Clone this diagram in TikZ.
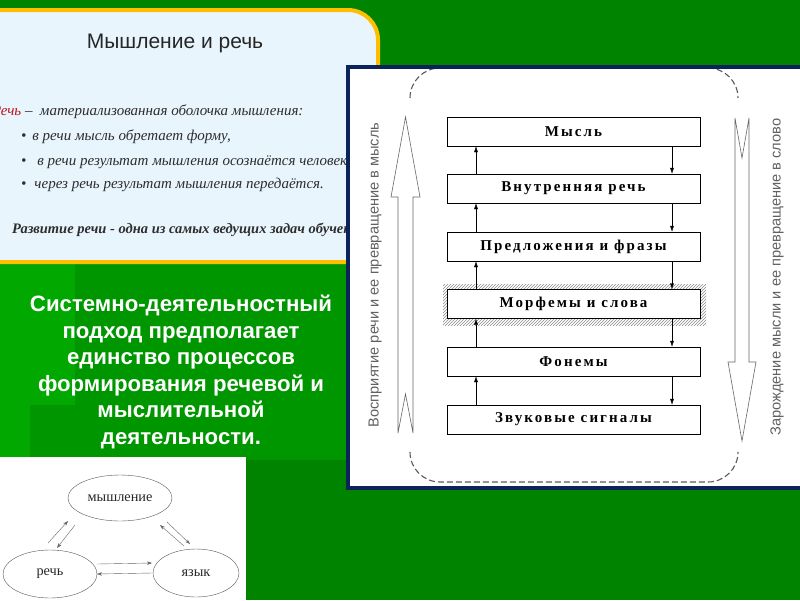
\documentclass[tikz,border=0pt]{standalone}
\usepackage{fontspec}
\setmainfont{Liberation Serif}
\newfontfamily\sansfont{Liberation Sans}
\newfontfamily\boxfont[LetterSpace=14]{Liberation Serif}
\usetikzlibrary{arrows.meta,patterns,shapes.geometric}
\definecolor{bggreen}{RGB}{0,132,0}
\definecolor{midgreen}{RGB}{0,150,0}
\definecolor{lightgreen}{RGB}{0,168,0}
\definecolor{paleblue}{RGB}{232,245,253}
\definecolor{gold}{RGB}{255,190,0}
\definecolor{navy}{RGB}{10,35,90}
\definecolor{speechred}{RGB}{190,20,30}
\definecolor{inktext}{RGB}{45,45,45}
\definecolor{dashgray}{RGB}{90,90,90}
\begin{document}
\begin{tikzpicture}[x=1pt,y=-1pt,
  stepbox/.style={draw,fill=white,minimum width=253pt,minimum height=29pt,inner sep=0pt,
    font=\boxfont\bfseries\fontsize{15}{17}\selectfont},
  smallarr/.style={-{Latex[length=6pt,width=4pt]},thin},
  bigarr/.style={draw=black!60,fill=white,line width=0.6pt},
  sidelabel/.style={rotate=90,text=black!62,font=\sansfont\fontsize{14.6}{16}\selectfont},
  textline/.style={anchor=base west,inner sep=0pt,text=inktext,font=\itshape\fontsize{15}{18}\selectfont},
  ellnode/.style={ellipse,draw=black!65,fill=white,inner sep=0pt,text=black!85,font=\fontsize{14.3}{16}\selectfont},
  thinarr/.style={-{Stealth[length=5pt,width=3.5pt]},black!60,thin}]
\useasboundingbox (0,0) rectangle (800,600);
\fill[bggreen] (0,0) rectangle (800,600);
\fill[midgreen] (0,262) rectangle (350,460);
\fill[lightgreen] (0,262) rectangle (75,405);
\fill[lightgreen] (0,405) rectangle (30,460);
\draw[gold,fill=paleblue,line width=4pt,rounded corners=30pt] (-30,10) rectangle (378,262);
\node[inner sep=0pt,anchor=base,text=black!85,font=\sansfont\fontsize{21}{24}\selectfont] (title) at (175,48) {Мышление и речь};
\node[textline] (def) at (-8,115) {\textcolor{speechred}{Речь} –\ \ материализованная оболочка мышления:};
\node[textline] (pt1) at (21,140) {\textbullet\hspace{6pt}в речи мысль обретает форму,};
\node[textline] (pt2) at (21,165) {\textbullet\hspace{11pt}в речи результат мышления осознаётся человеком,};
\node[textline] (pt3) at (21,188) {\textbullet\hspace{8pt}через речь результат мышления передаётся.};
\node[textline,font=\bfseries\itshape\fontsize{14.5}{17}\selectfont] (task) at (12,233) {Развитие речи - одна из самых ведущих задач обучения};
\node[anchor=north,inner sep=0pt,align=center,text=white,font=\sansfont\bfseries\fontsize{22.2}{26.5}\selectfont] (sdp) at (181,295)
  {Системно-деятельностный\\подход предполагает\\единство процессов\\формирования речевой и\\мыслительной\\деятельности.};
\fill[white] (0,457) rectangle (246,600);
\node[ellnode,minimum width=104pt,minimum height=46pt] (mysh) at (120,498) {мышление};
\node[ellnode,minimum width=94pt,minimum height=48pt] (rech) at (50,574) {речь};
\node[ellnode,minimum width=86pt,minimum height=48pt] (yaz) at (196,573) {язык};
\draw[thinarr] ([shift={(-2,-31)}]rech.center) -- ([shift={(-52,23)}]mysh.center);
\draw[thinarr] ([shift={(-45,27)}]mysh.center) -- ([shift={(7,-26)}]rech.center);
\draw[thinarr] ([shift={(-12,-27)}]yaz.center) -- ([shift={(40,27)}]mysh.center);
\draw[thinarr] ([shift={(47,24)}]mysh.center) -- ([shift={(-6,-29)}]yaz.center);
\draw[thinarr] ([shift={(47,-10)}]rech.center) -- ([shift={(-44,-10)}]yaz.center);
\draw[thinarr] ([shift={(-44,0)}]yaz.center) -- ([shift={(47,0)}]rech.center);
\fill[white] (348,67) rectangle (810,488);
\draw[dashgray,line width=1.1pt,dash pattern=on 6pt off 3pt,rounded corners=30pt] (410,98) -- (410,68) -- (440,68);
\draw[dashgray,line width=1.1pt,dash pattern=on 6pt off 3pt,rounded corners=30pt] (708,68) -- (738,68) -- (738,98);
\draw[dashgray,line width=1.1pt,dash pattern=on 6pt off 3pt,rounded corners=30pt] (410,452) -- (410,482) -- (738,482) -- (738,452);
\draw[navy,line width=4.5pt] (348,67) rectangle (810,488);
\draw[bigarr] (398,433) -- (405.5,394) -- (413,433) -- (413,197) -- (420,197) -- (405.5,117) -- (391,197) -- (398,197) -- cycle;
\draw[bigarr] (735,118) -- (742,158) -- (749,118) -- (749,362) -- (756,362) -- (742,441) -- (728,362) -- (735,362) -- cycle;
\node[sidelabel] (up) at (375,275) {Восприятие речи и ее превращение в мысль};
\node[sidelabel] (down) at (777,277) {Зарождение мысли и ее превращение в слово};
\fill[pattern=north east lines,pattern color=black!45] (443,284) rectangle (706,325);
\node[stepbox] (mysl) at (573.5,131.5) {Мысль};
\node[stepbox] (vnut) at (573.5,188.5) {Внутренняя речь};
\node[stepbox] (pred) at (573.5,246.5) {Предложения и фразы};
\node[stepbox] (morf) at (573.5,304) {Морфемы и слова};
\node[stepbox] (fon) at (573.5,361.5) {Фонемы};
\node[stepbox] (zvuk) at (573.5,419.5) {Звуковые сигналы};
\foreach \a/\b in {zvuk/fon,fon/morf,morf/pred,pred/vnut,vnut/mysl}
  \draw[smallarr] ([xshift=-97.5pt]\a.north) -- ([xshift=-97.5pt]\b.south);
\foreach \a/\b in {mysl/vnut,vnut/pred,pred/morf,morf/fon,fon/zvuk}
  \draw[smallarr] ([xshift=98.5pt]\a.south) -- ([xshift=98.5pt]\b.north);
\end{tikzpicture}
\end{document}
